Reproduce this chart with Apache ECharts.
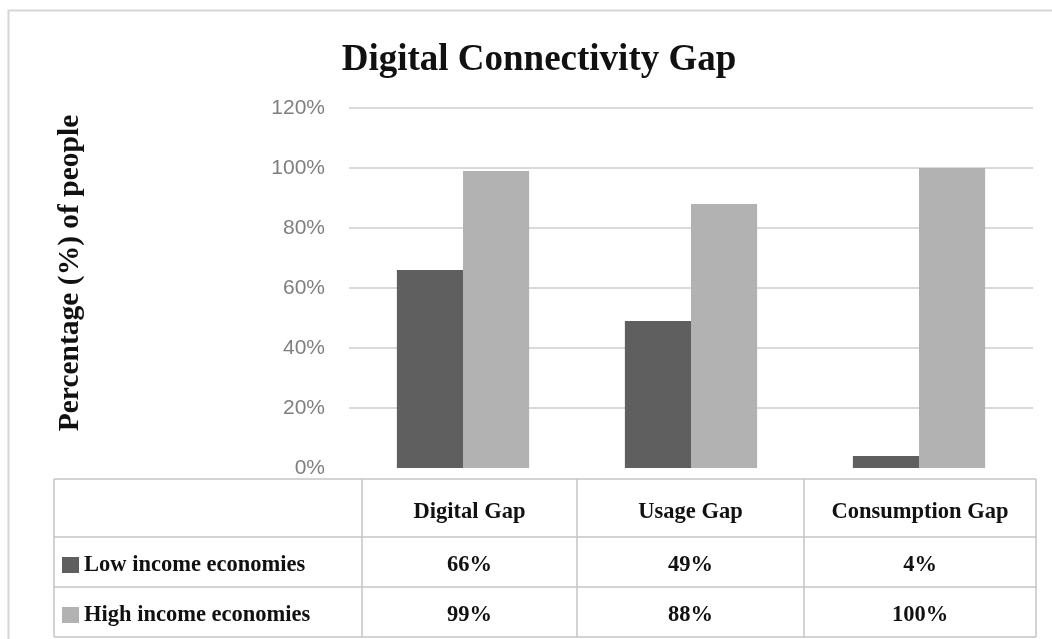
<!DOCTYPE html>
<html>
<head>
<meta charset="utf-8">
<title>Digital Connectivity Gap</title>
<script src="https://cdn.jsdelivr.net/npm/echarts@6/dist/echarts.min.js"></script>
<style>
  html, body { margin: 0; padding: 0; background: #ffffff; }
  #chart { width: 1052px; height: 639px; }
</style>
</head>
<body>
<div id="chart"></div>
<script>
// Data
const categories = ['Digital Gap', 'Usage Gap', 'Consumption Gap'];
const seriesNames = ['Low income economies', 'High income economies'];
const lowIncome = [66, 49, 4];
const highIncome = [99, 88, 100];
const yTicks = [0, 20, 40, 60, 80, 100, 120];
const yTitle = 'Percentage (%) of people';

const colors = ['#5f5f5f', '#b2b2b2'];
const serif = '"Liberation Serif", "Times New Roman", serif';
const sans = '"Liberation Sans", Arial, sans-serif';
const tableFont = 'bold 22.5px ' + serif;

// Data table layout below the plot
const table = {
  left: 54, right: 1036, top: 479, bottom: 637,
  cols: [54, 362, 577, 804, 1036],
  rows: [479, 537, 587, 637]
};
const lineColor = '#c4c4c4';

const graphics = [];

// outer chart frame
graphics.push({
  type: 'rect', z: 0,
  shape: { x: 8.5, y: 10.5, width: 1100, height: 700 },
  style: { fill: 'none', stroke: '#d6d6d6', lineWidth: 2 }
});

// vertical axis title
graphics.push({
  type: 'text', z: 11,
  x: 70, y: 273, rotation: Math.PI / 2,
  style: {
    text: yTitle, font: 'bold 29.5px ' + serif, fill: '#111111',
    align: 'center', verticalAlign: 'middle'
  }
});

// table grid lines
table.rows.forEach(y => {
  graphics.push({
    type: 'line', z: 10,
    shape: { x1: table.left, y1: y, x2: table.right, y2: y },
    style: { stroke: lineColor, lineWidth: 1.5 }
  });
});
table.cols.forEach(x => {
  graphics.push({
    type: 'line', z: 10,
    shape: { x1: x, y1: table.top, x2: x, y2: table.bottom },
    style: { stroke: lineColor, lineWidth: 1.5 }
  });
});

// header row: category names
categories.forEach((c, i) => {
  graphics.push({
    type: 'text', z: 11,
    x: (table.cols[i + 1] + table.cols[i + 2]) / 2,
    y: (table.rows[0] + table.rows[1]) / 2 + 4,
    style: {
      text: c, font: tableFont, fill: '#111111',
      align: 'center', verticalAlign: 'middle'
    }
  });
});

// series rows: legend key, name, values
const seriesValues = [lowIncome, highIncome];
seriesNames.forEach((name, r) => {
  const cy = (table.rows[r + 1] + table.rows[r + 2]) / 2 + 3;
  graphics.push({
    type: 'rect', z: 11,
    shape: { x: 62, y: cy - 8, width: 17, height: 16 },
    style: { fill: colors[r] }
  });
  graphics.push({
    type: 'text', z: 11,
    x: 84, y: cy,
    style: {
      text: name, font: tableFont, fill: '#111111',
      align: 'left', verticalAlign: 'middle'
    }
  });
  seriesValues[r].forEach((v, i) => {
    graphics.push({
      type: 'text', z: 11,
      x: (table.cols[i + 1] + table.cols[i + 2]) / 2,
      y: cy,
      style: {
        text: v + '%', font: tableFont, fill: '#111111',
        align: 'center', verticalAlign: 'middle'
      }
    });
  });
});

const chart = echarts.init(document.getElementById('chart'), null, { renderer: 'canvas' });

chart.setOption({
  backgroundColor: '#ffffff',
  animation: false,
  title: {
    text: 'Digital Connectivity Gap',
    left: 534, top: 37,
    textAlign: 'center',
    textStyle: { fontFamily: serif, fontWeight: 'bold', fontSize: 37, color: '#111111' }
  },
  legend: { show: false },
  grid: { left: 349, right: 19, top: 108, bottom: 171, containLabel: false },
  xAxis: {
    type: 'category',
    data: categories,
    axisLine: { show: false },
    axisTick: { show: false },
    axisLabel: { show: false }
  },
  yAxis: {
    type: 'value',
    min: yTicks[0],
    max: yTicks[yTicks.length - 1],
    interval: yTicks[1] - yTicks[0],
    axisLine: { show: false },
    axisTick: { show: false },
    axisLabel: {
      formatter: v => v + '%',
      fontFamily: sans, fontSize: 21, color: '#7f7f7f', margin: 24
    },
    splitLine: { show: true, showMinLine: false, lineStyle: { color: '#d9d9d9', width: 2 } }
  },
  series: [
    {
      name: seriesNames[0], type: 'bar', data: lowIncome,
      barGap: '0%', barCategoryGap: '42%',
      itemStyle: { color: colors[0] }
    },
    {
      name: seriesNames[1], type: 'bar', data: highIncome,
      barGap: '0%', barCategoryGap: '42%',
      itemStyle: { color: colors[1] }
    }
  ],
  graphic: graphics
});
</script>
</body>
</html>
